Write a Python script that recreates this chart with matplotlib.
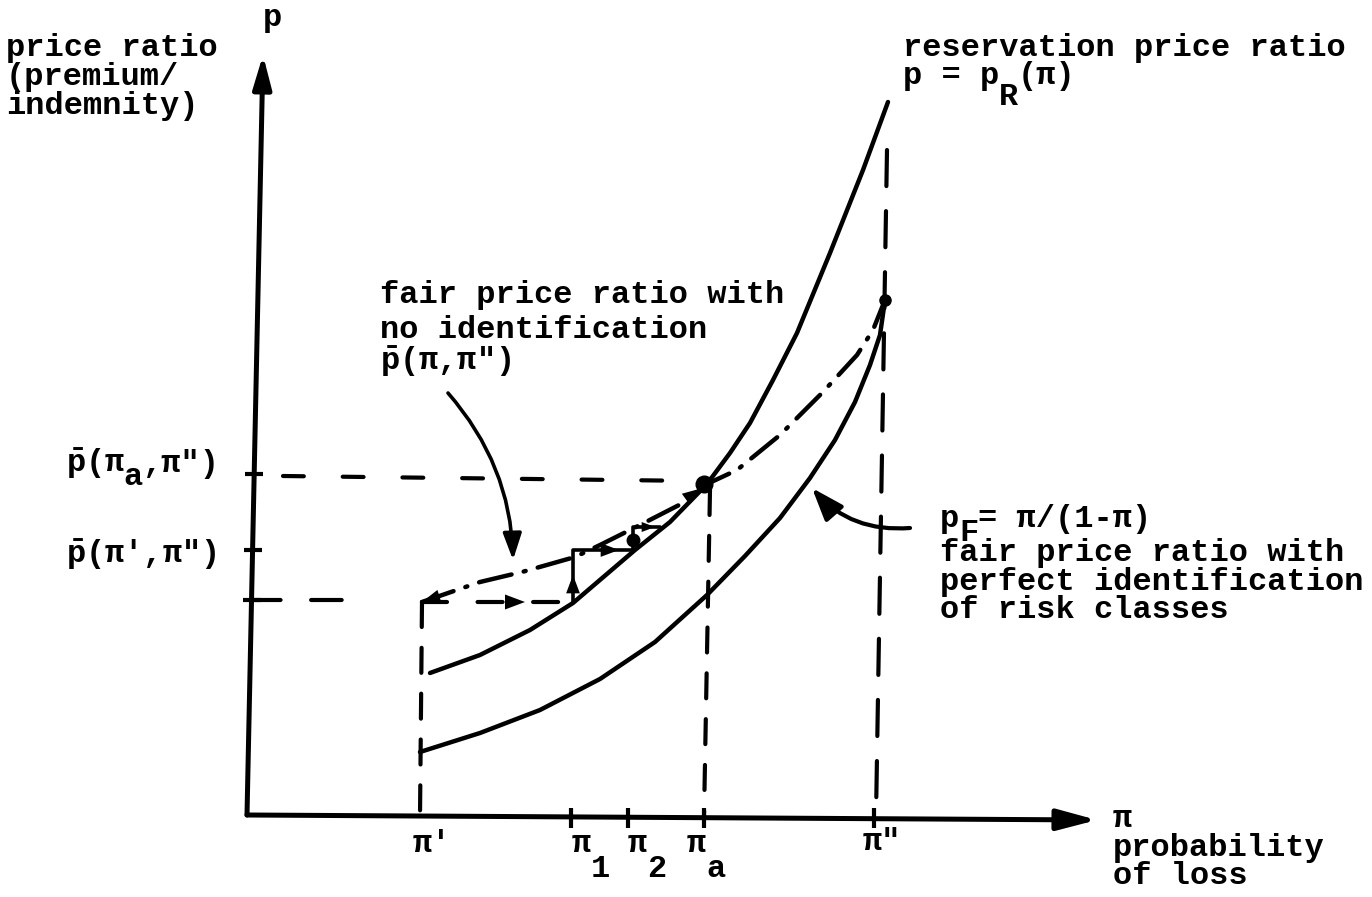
import matplotlib
matplotlib.use("Agg")
import matplotlib.pyplot as plt

# Diagram units: pi (probability of loss) along x, p (price ratio) along y,
# origin at the corner of the hand-drawn axes.
RES_PI = [1.83, 2.33, 2.83, 3.26, 3.88, 4.23, 4.60, 4.83, 5.03, 5.26, 5.50, 5.83, 6.16, 6.41]
RES_P = [1.44, 1.62, 1.87, 2.14, 2.67, 2.95, 3.33, 3.64, 3.94, 4.37, 4.84, 5.64, 6.47, 7.15]

FAIR_PI = [1.73, 2.33, 2.93, 3.53, 4.08, 4.60, 4.98, 5.33, 5.63, 5.88, 6.08, 6.23, 6.33, 6.38]
FAIR_P = [0.65, 0.84, 1.07, 1.38, 1.75, 2.22, 2.61, 2.99, 3.39, 3.77, 4.15, 4.52, 4.82, 5.17]

AVG_PI = [1.75, 2.33, 2.75, 3.28, 3.53, 3.93, 4.36, 4.60, 4.90, 5.33, 5.75, 6.10, 6.26, 6.38]
AVG_P = [2.15, 2.35, 2.45, 2.60, 2.72, 2.92, 3.14, 3.33, 3.47, 3.82, 4.24, 4.62, 4.87, 5.17]

# adjustment path pi' -> pi1 -> pi2 -> ...
STEP_PI = [1.75, 3.26, 3.26, 3.86, 3.86, 4.13]
STEP_P = [2.15, 2.15, 2.67, 2.67, 2.90, 2.90]

# marked points on the pi axis and on the p axis
PI_PRIME, PI_1, PI_2, PI_A, PI_DPRIME = 1.73, 3.24, 3.81, 4.57, 6.27
P_BAR_A, P_BAR_PRIME, P_START = 3.43, 2.67, 2.17

BLACK = "black"
FONT = "Liberation Mono"
SIZE = 23
PITCH = 0.6 * SIZE / 72          # one typewriter column in data units (100 px/unit)
TW = dict(family=FONT, fontweight="bold", fontsize=SIZE,
          ha="left", va="baseline", color=BLACK)
PBAR = r"$\bar{\mathrm{p}}$"


def main():
    plt.rcParams["lines.scale_dashes"] = False
    plt.rcParams["lines.solid_capstyle"] = "round"
    plt.rcParams["lines.dash_capstyle"] = "round"
    plt.rcParams["mathtext.fontset"] = "custom"
    for k in ("rm", "it", "bf", "tt", "sf"):
        plt.rcParams[f"mathtext.{k}"] = f"{FONT}:bold"

    fig = plt.figure(figsize=(13.72, 8.97), dpi=100)
    ax = fig.add_axes([0, 0, 1, 1])
    ax.set_xlim(-2.47, 11.25)
    ax.set_ylim(-0.80, 8.17)
    ax.axis("off")

    def tw(x, y, pieces):
        # pieces: (text, columns, drop) typed left to right on one line
        col = 0
        for s, n, drop in pieces:
            ax.text(x + col * PITCH, y - drop, s, **TW)
            col += n

    def head(tail, tip, ms=10, hl=1.2, hw=0.45):
        ax.annotate("", xy=tip, xytext=tail,
                    arrowprops=dict(arrowstyle=f"-|>,head_length={hl},head_width={hw}",
                                    lw=0, color=BLACK, shrinkA=0, shrinkB=0,
                                    mutation_scale=ms))

    # axes with arrows
    ax.annotate("", xy=(8.50, -0.03), xytext=(0.0, 0.02),
                arrowprops=dict(arrowstyle="-|>,head_length=1.2,head_width=0.32",
                                lw=3.6, color=BLACK, shrinkA=0, shrinkB=0,
                                mutation_scale=20))
    ax.annotate("", xy=(0.16, 7.62), xytext=(0.0, 0.02),
                arrowprops=dict(arrowstyle="-|>,head_length=1.0,head_width=0.28",
                                lw=3.6, color=BLACK, shrinkA=0, shrinkB=0,
                                mutation_scale=20))

    # ticks
    for yv in (P_BAR_A, P_BAR_PRIME, P_START):
        ax.plot([yv * 0.021], [yv], marker="_", ms=13, mew=3, color=BLACK)
    for xv in (PI_1, PI_2, PI_A, PI_DPRIME):
        ax.plot([xv], [-0.01], marker="|", ms=14, mew=3, color=BLACK)

    # curves
    ax.plot(RES_PI, RES_P, color=BLACK, lw=3.2)
    ax.plot(FAIR_PI, FAIR_P, color=BLACK, lw=3.2)
    ax.plot(AVG_PI, AVG_P, color=BLACK, lw=3.2, ls=(0, (24, 9, 1.5, 9)))

    # guide lines
    dash = (0, (18, 15))
    ax.plot([0.36, 4.53], [P_BAR_A - 0.02, P_BAR_A - 0.07], color=BLACK, lw=3, ls=(0, (15, 28)))
    ax.plot([0.03, 0.95], [P_START, P_START], color=BLACK, lw=3, ls=(0, (22, 22)))
    ax.plot([AVG_PI[0], PI_PRIME], [AVG_P[0], 0.0], color=BLACK, lw=3, ls=dash)
    ax.plot([4.63, PI_A], [3.27, 0.0], color=BLACK, lw=3, ls=dash)
    ax.plot([6.40, 6.29], [6.67, 0.0], color=BLACK, lw=3, ls=(0, (26, 18)))

    # adjustment steps
    ax.plot(STEP_PI[:2], STEP_P[:2], color=BLACK, lw=3, ls=(0, (18, 22)))
    ax.plot(STEP_PI[1:], STEP_P[1:], color=BLACK, lw=2.6)
    head((2.55, STEP_P[0]), (2.78, STEP_P[0]), ms=12)
    head((STEP_PI[1], 2.22), (STEP_PI[1], 2.42), ms=11)
    head((3.50, STEP_P[2]), (3.72, STEP_P[2]), ms=11)
    head((3.95, STEP_P[4]), (4.08, STEP_P[4]), ms=8)
    head((2.10, 2.26), (AVG_PI[0], AVG_P[0]), ms=11)
    head((4.30, 3.12), (4.52, 3.28), ms=10)

    # points
    ax.plot([PI_A], [3.33], "o", ms=12, color=BLACK)
    ax.plot([6.38], [5.17], "o", ms=8, color=BLACK)
    ax.plot([3.86], [2.77], "o", ms=9, color=BLACK)

    # label arrows
    ax.annotate("", xy=(2.66, 2.57), xytext=(2.01, 4.24),
                arrowprops=dict(arrowstyle="-|>,head_length=1.0,head_width=0.35",
                                connectionstyle="arc3,rad=-0.18", lw=2.6,
                                color=BLACK, shrinkA=0, shrinkB=0, mutation_scale=16))
    ax.annotate("", xy=(5.65, 3.29), xytext=(6.63, 2.89),
                arrowprops=dict(arrowstyle="-|>,head_length=1.1,head_width=0.4",
                                connectionstyle="arc3,rad=-0.25", lw=3,
                                color=BLACK, shrinkA=0, shrinkB=0, mutation_scale=18))

    # texts
    tw(0.16, 7.91, [("p", 1, 0)])
    tw(-2.41, 7.61, [("price ratio", 11, 0)])
    tw(-2.41, 7.32, [("(premium/", 9, 0)])
    tw(-2.41, 7.03, [("indemnity)", 10, 0)])

    tw(6.56, 7.61, [("reservation price ratio", 23, 0)])
    tw(6.56, 7.33, [("p = p", 5, 0), ("R", 1, 0.21), ("(\u03c0)", 3, 0)])

    tw(1.33, 5.14, [("fair price ratio with", 21, 0)])
    tw(1.33, 4.79, [("no identification", 17, 0)])
    tw(1.33, 4.47, [(PBAR + "(\u03c0,\u03c0\")", 7, 0)])

    tw(6.93, 2.90, [("p", 1, 0), ("F", 1, 0.14), ("= \u03c0/(1-\u03c0)", 9, 0)])
    tw(6.93, 2.56, [("fair price ratio with", 21, 0)])
    tw(6.93, 2.27, [("perfect identification", 22, 0)])
    tw(6.93, 1.99, [("of risk classes", 15, 0)])

    tw(-1.81, 3.45, [(PBAR + "(\u03c0", 3, 0), ("a", 1, 0.13), (",\u03c0\")", 4, 0)])
    tw(-1.81, 2.54, [(PBAR + "(\u03c0',\u03c0\")", 8, 0)])

    tw(1.66, -0.35, [("\u03c0'", 2, 0)])
    tw(3.25, -0.35, [("\u03c0", 1, 0), ("1", 1, 0.25)])
    tw(3.81, -0.35, [("\u03c0", 1, 0), ("2", 1, 0.25)])
    tw(4.40, -0.35, [("\u03c0", 1, 0), ("a", 1, 0.25)])
    tw(6.16, -0.33, [("\u03c0\"", 2, 0)])

    tw(8.66, -0.10, [("\u03c0", 1, 0)])
    tw(8.66, -0.39, [("probability", 11, 0)])
    tw(8.66, -0.67, [("of loss", 7, 0)])

    fig.savefig("out.png", dpi=100)


if __name__ == "__main__":
    main()
